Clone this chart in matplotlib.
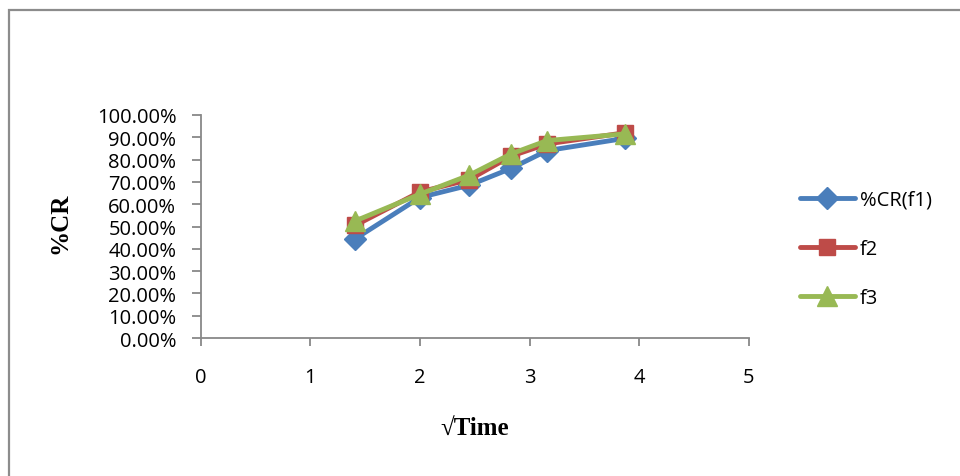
import matplotlib.pyplot as plt
from matplotlib.patches import Rectangle

# sqrt(time) values
sqrt_time = [1.41, 2.0, 2.45, 2.83, 3.16, 3.87]
cr_f1 = [0.445, 0.63, 0.685, 0.76, 0.84, 0.895]
cr_f2 = [0.505, 0.655, 0.71, 0.815, 0.87, 0.92]
cr_f3 = [0.525, 0.645, 0.73, 0.825, 0.885, 0.915]
labels = ["%CR(f1)", "f2", "f3"]
yticks = [i / 10 for i in range(11)]

fig = plt.figure(figsize=(9.6, 4.77), dpi=100)
# outer chart frame (left and top visible)
fig.patches.append(Rectangle((0.0095, -0.1), 1.2, 1.077, transform=fig.transFigure,
                             fill=False, edgecolor="#8c8c8c", linewidth=1.6))

ax = fig.add_axes([0.209, 0.289, 0.571, 0.468])
styles = [("#4A7EBB", "D", 11), ("#BE4B48", "s", 12), ("#98B954", "^", 14)]
for ys, lab, (c, m, ms) in zip([cr_f1, cr_f2, cr_f3], labels, styles):
    ax.plot(sqrt_time, ys, color=c, marker=m, markersize=ms, linewidth=3.5,
            label=lab, solid_capstyle="round")

ax.set_xlim(0, 5)
ax.set_ylim(0, 1)
ax.set_xticks(range(6))
ax.set_yticks(yticks)
ax.set_yticklabels([f"{v * 100:.2f}%" for v in yticks])
for s in ["top", "right"]:
    ax.spines[s].set_visible(False)
for s in ["left", "bottom"]:
    ax.spines[s].set_color("#888888")
    ax.spines[s].set_linewidth(1.3)
ax.tick_params(axis="both", color="#888888", width=1.3, labelsize=14.5)
ax.tick_params(axis="y", length=6.5, pad=11)
ax.tick_params(axis="x", length=6, pad=15)
for t in ax.get_xticklabels() + ax.get_yticklabels():
    t.set_family("Open Sans")

ax.set_ylabel("%CR", family="Liberation Serif", fontweight="bold", fontsize=18)
ax.yaxis.set_label_coords(-0.235, 0.52)
ax.set_xlabel("\u221aTime", family=["Liberation Serif", "DejaVu Serif"], fontweight="bold",
              fontsize=18)
ax.xaxis.set_label_coords(0.5, -0.35)

leg = fig.legend(loc="upper left", bbox_to_anchor=(0.833, 0.60), frameon=False,
                 prop={"family": "Open Sans", "size": 14.5}, handlelength=2.75,
                 labelspacing=1.45, handletextpad=0.25, borderpad=0, borderaxespad=0)

fig.savefig("out.png", dpi=100, facecolor="white")
